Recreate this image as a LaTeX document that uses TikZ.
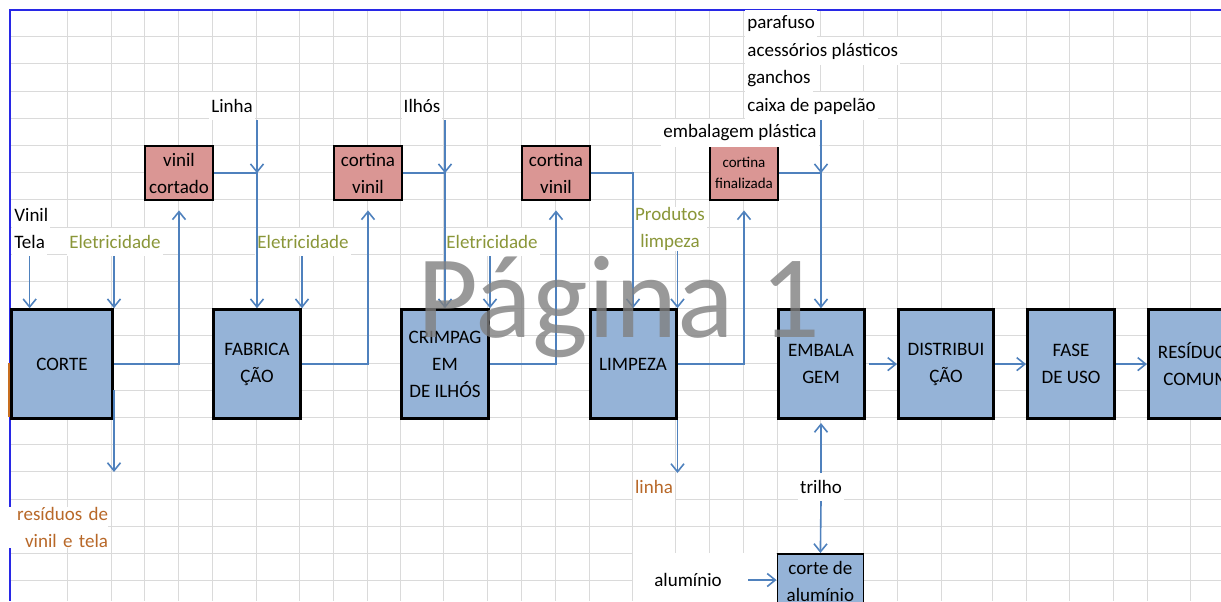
\documentclass[tikz,border=0pt]{standalone}
\usepackage{fontspec}
\setmainfont{Carlito}
\usetikzlibrary{arrows.meta}

\definecolor{boxblue}{RGB}{149,179,215}
\definecolor{boxpink}{RGB}{218,150,148}
\definecolor{linecol}{RGB}{79,129,189}
\definecolor{gridcol}{RGB}{218,218,218}
\definecolor{eletrcol}{RGB}{138,150,56}
\definecolor{wastecol}{RGB}{184,104,40}
\definecolor{pageblue}{RGB}{40,40,230}

\begin{document}
\begin{tikzpicture}[x=0.5pt,y=-0.5pt,
    stage/.style={draw=black, line width=1.5pt, fill=boxblue, anchor=north west, inner sep=0pt,
        minimum height=54.4pt, align=center, font=\fontsize{9.5}{13.5}\selectfont},
    part/.style={draw=black, line width=1pt, fill=boxpink, anchor=north west, inner sep=0pt,
        minimum width=34pt, minimum height=27.2pt, align=center, font=\fontsize{9.5}{13.5}\selectfont},
    lbl/.style={fill=white, inner xsep=1pt, inner ysep=0pt, minimum height=13.6pt,
        font=\fontsize{9.5}{13.5}\selectfont},
    flow/.style={draw=linecol, line width=0.8pt, -{Straight Barb[length=4pt,width=6.5pt]}}]

    \useasboundingbox (0,0) rectangle (1221,601);
    \clip (0,0) rectangle (1221,601);

    % grid
    \foreach \gx in {67,111,144,178,212,256,299,333,367,400,443,487,521,555,589,632,675,709,743,777,820,863,897,941,992,1026,1069,1113,1147,1190}
        \draw[gridcol, line width=0.5pt] (\gx+0.5,10) -- (\gx+0.5,601);
    \foreach \r in {1,...,22}
        \draw[gridcol, line width=0.5pt] (10,{9.5+27.2*\r}) -- (1221,{9.5+27.2*\r});
    \fill[white] (632.5,553) rectangle (776,601);

    % page border
    \draw[pageblue, line width=1pt] (10,601) -- (10,10) -- (1221,10);
    \draw[draw={rgb,255:red,200;green,110;blue,30}, line width=1pt] (9,363) -- (9,417);

    % stages
    \node[stage, minimum width=50.5pt] (corte) at (10,308.2) {CORTE};
    \node[stage, minimum width=43.5pt] (fabricacao) at (212,308.2) {FABRICA\\ÇÃO};
    \node[stage, minimum width=43.5pt] (crimpagem) at (400,308.2) {CRIMPAG\\EM\\DE ILHÓS};
    \node[stage, minimum width=43pt] (limpeza) at (588.5,308.2) {LIMPEZA};
    \node[stage, minimum width=43pt] (embalagem) at (776.5,308.2) {EMBALA\\GEM};
    \node[stage, minimum width=47.5pt] (distribuicao) at (897,308.2) {DISTRIBUI\\ÇÃO};
    \node[stage, minimum width=43.5pt] (fase) at (1026,308.2) {FASE\\DE USO};
    \node[stage, minimum width=48.5pt] (residuos) at (1147,308.2) {RESÍDUOS\\COMUM};
    \node[stage, line width=0.9pt, minimum width=43pt, minimum height=27.2pt] (cortealu) at (776.5,553) {corte de\\alumínio};

    % intermediate parts
    \node[part] (vinilcortado) at (144,145) {vinil\\cortado};
    \node[part] (cortinavinil) at (333,145) {cortina\\vinil};
    \node[part] (cortinavinilb) at (521,145) {cortina\\vinil};
    \node[part, font=\fontsize{7.5}{10.5}\selectfont] (cortinafinal) at (709,145) {cortina\\finalizada};

    % labels
    \node[lbl, anchor=west] (vinil) at (12,215) {Vinil};
    \node[lbl, anchor=west] (tela) at (12,242) {Tela};
    \node[lbl, text=eletrcol] (eletra) at (115,242) {Eletricidade};
    \node[lbl, text=eletrcol] (eletrb) at (303,242) {Eletricidade};
    \node[lbl, text=eletrcol] (eletrc) at (492,242) {Eletricidade};
    \node[lbl, text=eletrcol, align=center] (produtos) at (670,229) {Produtos\\limpeza};
    \node[lbl] (linha) at (232,106) {Linha};
    \node[lbl] (ilhos) at (422,106) {Ilhós};
    \node[lbl, anchor=west] (parafuso) at (745,24) {parafuso};
    \node[lbl, anchor=west] (acessorios) at (745,51) {acessórios plásticos};
    \node[lbl, anchor=west] (ganchos) at (745,79) {ganchos};
    \node[lbl, anchor=west] (caixa) at (745,106) {caixa de papelão};
    \node[lbl] (embplastica) at (740,133) {embalagem plástica};
    \node[lbl, text=wastecol, align=right, text width=50pt, inner xsep=0pt] (residuostxt) at (58,527.5) {resíduos de\\vinil e tela};
    \node[lbl, text=wastecol] (linhares) at (654,487) {linha};
    \node[lbl] (trilho) at (821,487) {trilho};
    \node[lbl] (aluminio) at (688,580) {alumínio};

    % inputs
    \draw[flow] (tela.south) -- (tela.south |- corte.north);
    \draw[flow] (corte.north east |- eletra.south) -- (corte.north east);
    \draw[flow, shorten >=4.5pt] (corte.east) -| (vinilcortado.south);

    \coordinate (jfab) at (fabricacao.north |- vinilcortado.east);
    \draw[flow] (jfab |- linha.south) -- (jfab);
    \draw[flow] (vinilcortado.east) -- (jfab) -- (fabricacao.north);
    \draw[flow] (fabricacao.north east |- eletrb.south) -- (fabricacao.north east);
    \draw[flow, shorten >=4.5pt] (fabricacao.east) -| (cortinavinil.south);

    \coordinate (jcrimp) at (crimpagem.north |- cortinavinil.east);
    \draw[flow] (jcrimp |- ilhos.south) -- (jcrimp);
    \draw[flow] (cortinavinil.east) -- (jcrimp) -- (crimpagem.north);
    \draw[flow] (crimpagem.north east |- eletrc.south) -- (crimpagem.north east);
    \draw[flow, shorten >=4.5pt] (crimpagem.east) -| (cortinavinilb.south);

    \draw[flow] (cortinavinilb.east) -| (limpeza.north);
    \draw[flow] (limpeza.north east |- produtos.south) -- (limpeza.north east);
    \draw[flow, shorten >=4.5pt] (limpeza.east) -| (cortinafinal.south);

    \coordinate (jemb) at (embalagem.north |- cortinafinal.east);
    \draw[flow] (jemb |- caixa.south) -- (jemb);
    \draw[flow] (cortinafinal.east) -- (jemb) -- (embalagem.north);

    % main line
    \draw[flow, shorten <=1.5pt] (embalagem.east) -- (distribuicao.west);
    \draw[flow] (distribuicao.east) -- (fase.west);
    \draw[flow] (fase.east) -- (residuos.west);

    % outputs
    \draw[flow] (corte.east |- 0,390) -- (corte.east |- 0,472);
    \draw[flow] (limpeza.south east) -- (limpeza.south east |- linhares.north);
    \draw[flow, shorten >=1.5pt] (trilho.north) -- (embalagem.south);
    \draw[flow] (trilho.south) -- (cortealu.north);
    \draw[flow, shorten <=12pt] (aluminio.east) -- (aluminio.east -| cortealu.west);

    % watermark
    \node[font=\fontsize{59}{59}\selectfont, text=gray, opacity=0.8, anchor=base west, inner sep=0pt] (pagina) at (417,337) {Página 1};

\end{tikzpicture}
\end{document}
